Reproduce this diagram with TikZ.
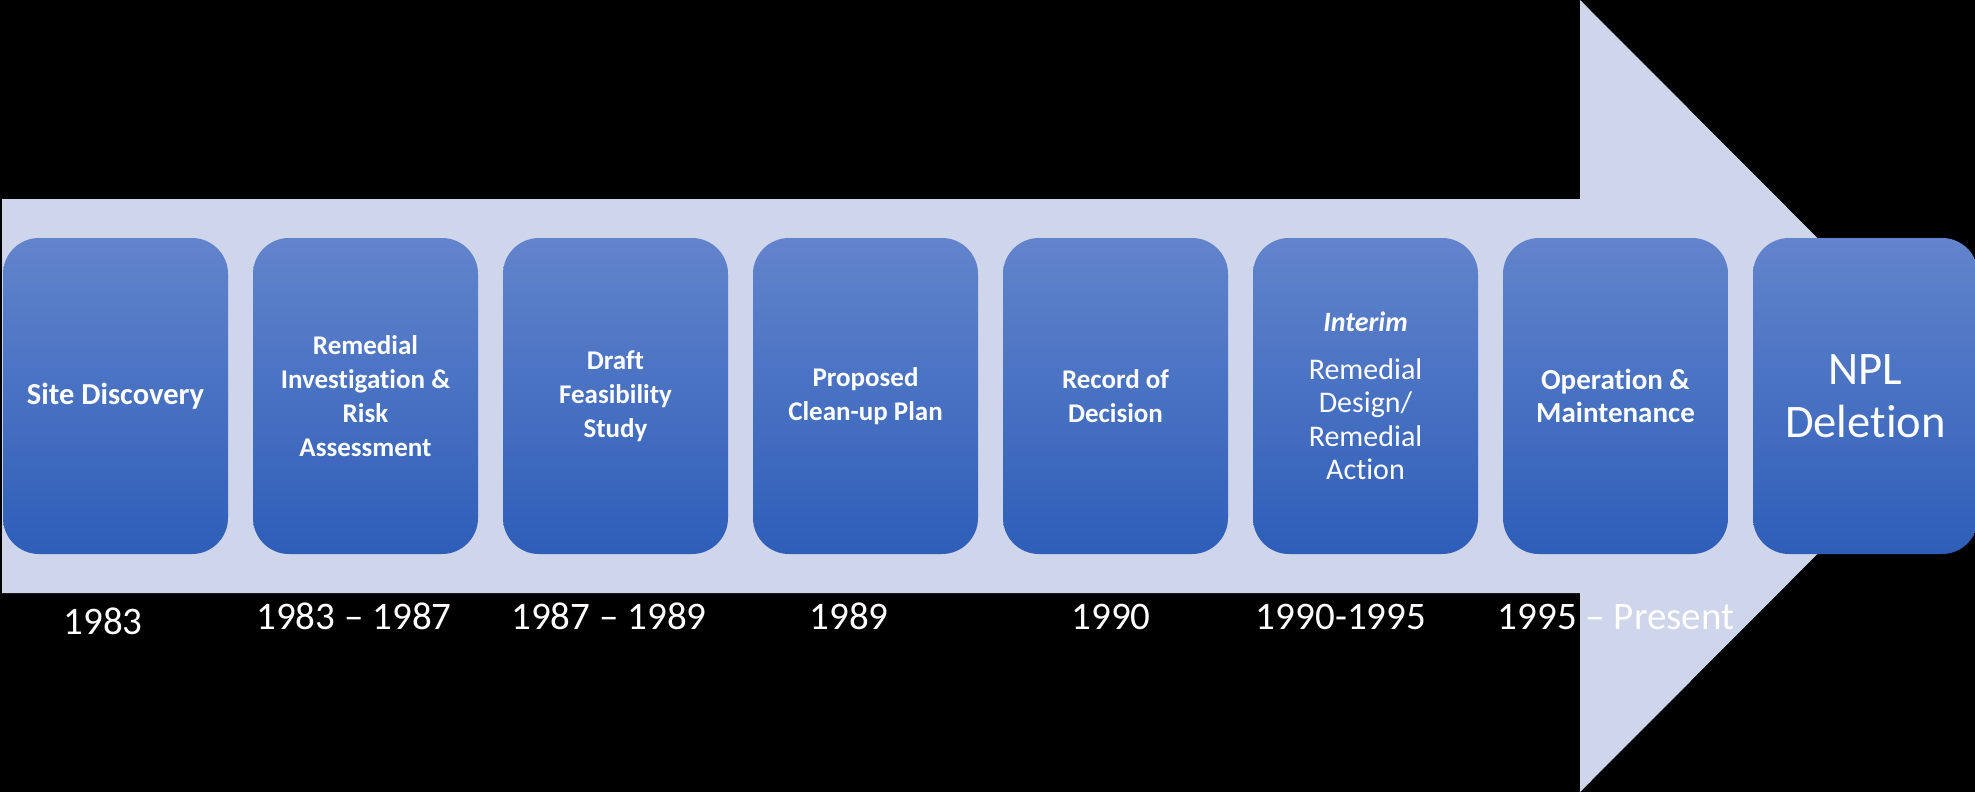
\documentclass[tikz,border=0pt]{standalone}
\usepackage{fontspec}
\setmainfont[Ligatures={TeX,NoCommon}]{Carlito}
\usepackage{tikz}

\definecolor{arrowbg}{RGB}{207,213,234}
\definecolor{boxtop}{RGB}{98,132,204}
\definecolor{boxbot}{RGB}{46,94,184}

\tikzset{
	stage/.style={rounded corners=18pt, minimum width=112.5pt, minimum height=158pt, inner sep=0pt,
		top color=boxtop, bottom color=boxbot, text=white, align=center},
	boldtxt/.style={font=\fontsize{13.5}{17}\selectfont\bfseries},
	year/.style={text=white, anchor=base, font=\fontsize{19.5}{23}\selectfont},
}

\begin{document}
\begin{tikzpicture}[x=0.5pt,y=-0.5pt]
	% Background
	\fill[black] (0,0) rectangle (1975,792);
	\useasboundingbox (0,0) rectangle (1975,792);
	% Big arrow
	\fill[arrowbg] (2,199) -- (1580,199) -- (1580,0) -- (1975,396) -- (1580,792) -- (1580,593) -- (2,593) -- cycle;
	% Stages
	\node[stage, font=\fontsize{15.25}{18}\selectfont\bfseries] (s1) at (115.5,396) {Site Discovery};
	\node[stage, boldtxt] (s2) at (365.5,396) {Remedial\\Investigation \&\\Risk\\Assessment};
	\node[stage, boldtxt] (s3) at (615.5,396) {Draft\\Feasibility\\Study};
	\node[stage, boldtxt] (s4) at (865.5,396) {Proposed\\Clean-up Plan};
	\node[stage, boldtxt] (s5) at (1115.5,396) {Record of\\Decision};
	\node[stage, font=\fontsize{15}{16.75}\selectfont] (s6) at (1365.5,396)
		{{\fontsize{14}{16.75}\selectfont\bfseries\itshape Interim}\\[7.25pt]Remedial\\Design/\\Remedial\\Action};
	\node[stage, font=\fontsize{14.5}{16.5}\selectfont\bfseries] (s7) at (1615.5,396) {Operation \&\\Maintenance};
	\node[stage, font=\fontsize{23.3}{26.5}\selectfont] (s8) at (1865.5,396) {NPL\\Deletion};
	% Years
	\node[year] (y1) at (103,634) {1983};
	\node[year] (y2) at (354,629) {1983 -- 1987};
	\node[year] (y3) at (609,629) {1987 -- 1989};
	\node[year] (y4) at (849,629) {1989};
	\node[year] (y5) at (1111,629) {1990};
	\node[year] (y6) at (1341,629) {1990-1995};
	\node[year] (y7) at (1616,629) {1995 -- Present};
\end{tikzpicture}
\end{document}
